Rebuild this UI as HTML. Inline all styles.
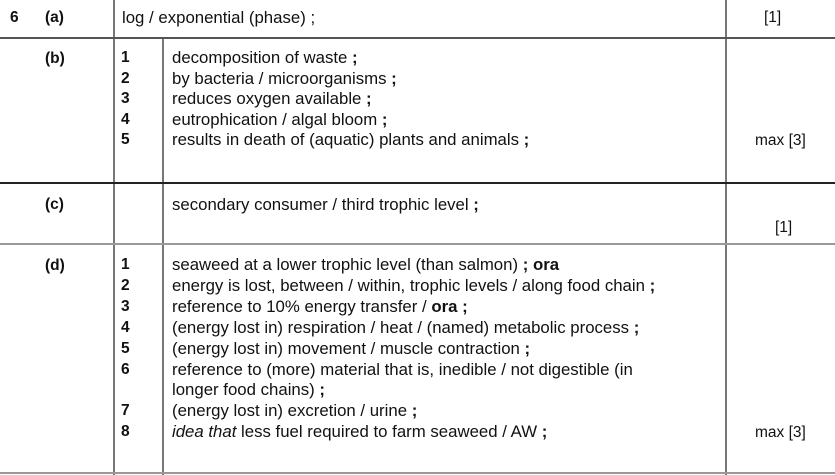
<!DOCTYPE html>
<html><head><meta charset="utf-8"><style>
body{margin:0;width:835px;height:475px;background:#fff;position:relative;overflow:hidden;font-family:"Liberation Sans",Arial,sans-serif;font-size:16.8px;color:#111}
.t{position:absolute;white-space:nowrap;line-height:21px}
.b{font-weight:bold}
.h{position:absolute;height:2px;background:#555;left:0;width:835px}
.v{position:absolute;width:1.5px;background:#777}
</style></head><body>
<div class="v" style="left:113px;top:0;height:475px"></div>
<div class="v" style="left:162px;top:38px;height:437px"></div>
<div class="v" style="left:725px;top:0;height:475px"></div>
<div class="h" style="top:37px"></div>
<div class="h" style="top:182px;background:#222"></div>
<div class="h" style="top:243px;background:#999"></div>
<div class="h" style="top:472px;background:#999"></div>

<div class="t b" style="left:10px;top:7px;font-size:15.5px">6</div>
<div class="t b" style="left:45px;top:7px;font-size:15.5px">(a)</div>
<div class="t" style="left:122px;top:7px">log / exponential (phase) ;</div>
<div class="t" style="left:764px;top:7px;font-size:15.5px">[1]</div>

<div class="t b" style="left:45px;top:48px;font-size:15.5px">(b)</div>
<div class="t b" style="left:121px;top:48px;line-height:20.5px;font-size:15.5px">1<br>2<br>3<br>4<br>5</div>
<div class="t" style="left:172px;top:48px;line-height:20.5px">decomposition of waste <b>;</b><br>by bacteria / microorganisms <b>;</b><br>reduces oxygen available <b>;</b><br>eutrophication / algal bloom <b>;</b><br>results in death of (aquatic) plants and animals <b>;</b></div>
<div class="t" style="left:755px;top:130px;font-size:15.5px">max [3]</div>

<div class="t b" style="left:45px;top:194px;font-size:15.5px">(c)</div>
<div class="t" style="left:172px;top:194px">secondary consumer / third trophic level <b>;</b></div>
<div class="t" style="left:775px;top:217px;font-size:15.5px">[1]</div>

<div class="t b" style="left:45px;top:255px;font-size:15.5px">(d)</div>
<div class="t b" style="left:121px;top:255px;line-height:20.9px;font-size:15.5px">1<br>2<br>3<br>4<br>5<br>6<br><br>7<br>8</div>
<div class="t" style="left:172px;top:255px;line-height:20.9px">seaweed at a lower trophic level (than salmon) <b>; ora</b><br>energy is lost, between / within, trophic levels / along food chain <b>;</b><br>reference to 10% energy transfer / <b>ora ;</b><br>(energy lost in) respiration / heat /  (named) metabolic process <b>;</b><br>(energy lost in) movement / muscle contraction <b>;</b><br>reference to (more) material that is, inedible / not digestible (in<br>longer food chains) <b>;</b><br>(energy lost in) excretion / urine <b>;</b><br><i>idea that</i> less fuel required to farm seaweed / AW <b>;</b></div>
<div class="t" style="left:755px;top:422px;font-size:15.5px">max [3]</div>
</body></html>
